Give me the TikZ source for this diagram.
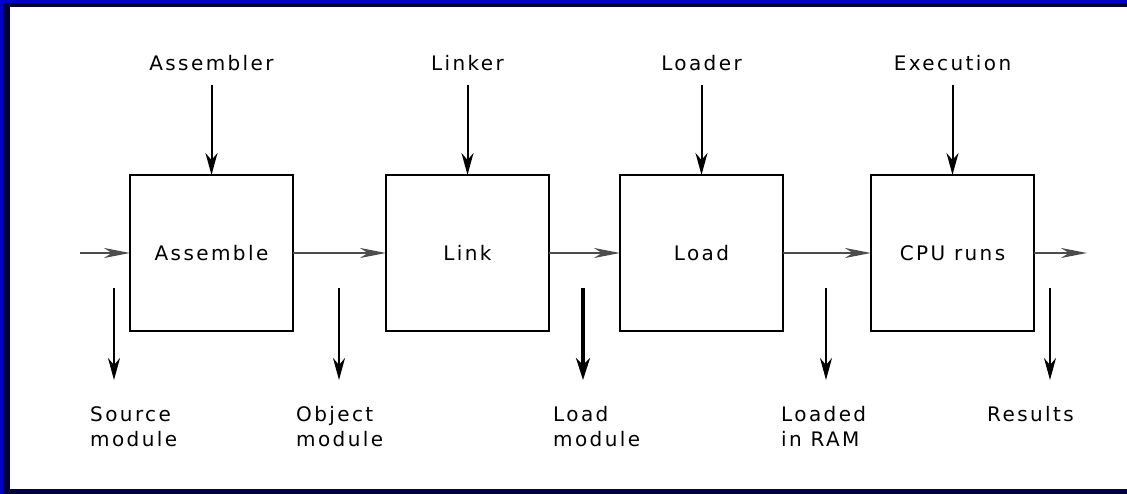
\documentclass[tikz,border=0pt]{standalone}
\usepackage{fontspec}
\usepackage{tikz}
\usetikzlibrary{positioning,arrows.meta}
\newfontfamily\diagfont[LetterSpace=12]{DejaVu Sans}
\definecolor{frameblue}{HTML}{0000CC}
\definecolor{framenavy}{HTML}{00003C}
\tikzset{
    every node/.style={font=\diagfont\fontsize{20}{25}\selectfont},
    stagebox/.style={draw,line width=2pt,minimum width=163pt,minimum height=156pt,inner sep=0pt,outer sep=0pt},
    toplbl/.style={inner sep=2pt,outer sep=0pt},
    outlbl/.style={align=left,inner sep=0pt,anchor=north west},
    flow/.style={-{Stealth[length=26pt,width=10pt,inset=8pt]},line width=2.8pt,black!70},
    feed/.style={-{Stealth[length=22pt,width=12pt,inset=7pt]},line width=2pt},
    heavy/.style={-{Stealth[length=22pt,width=14pt,inset=7pt]},line width=3.6pt}
}
\begin{document}
\begin{tikzpicture}[x=1pt,y=-1pt]
    % frame
    \fill[framenavy] (0,0) rectangle (1127,494);
    \fill[frameblue] (0,0) rectangle (1127,3);
    \fill[frameblue] (0,0) rectangle (3,494);
    \fill[white] (10,7) rectangle (1127,489);
    \useasboundingbox (0,0) rectangle (1127,494);

    \node[stagebox] (asm) at (211.5,253) {Assemble};
    \node[stagebox,right=93pt of asm] (link) {Link};
    \node[stagebox,right=71pt of link] (load) {Load};
    \node[stagebox,right=88pt of load] (cpu) {CPU runs};

    \node[toplbl,above=102pt of asm] (tAsm) {Assembler};
    \node[toplbl,above=102pt of link] (tLink) {Linker};
    \node[toplbl,above=102pt of load] (tLoad) {Loader};
    \node[toplbl,above=102pt of cpu] (tCpu) {Execution};
    \draw[feed,shorten <=12pt] (tAsm) -- (asm);
    \draw[feed,shorten <=12pt] (tLink) -- (link);
    \draw[feed,shorten <=12pt] (tLoad) -- (load);
    \draw[feed,shorten <=12pt] (tCpu) -- (cpu);

    \coordinate (inp) at (80,253);
    \coordinate (outp) at (1087,253);
    \draw[flow] (inp) -- (asm);
    \draw[flow] (asm) -- (link);
    \draw[flow] (link) -- (load);
    \draw[flow] (load) -- (cpu);
    \draw[flow] (cpu) -- (outp);

    \node[outlbl] (srcLbl) at (90,406) {Source\\module};
    \node[outlbl] (objLbl) at (296,406) {Object\\module};
    \node[outlbl] (ldmLbl) at (553,406) {Load\\module};
    \node[outlbl] (ramLbl) at (781,406) {Loaded\\in RAM};
    \node[outlbl] (resLbl) at (987,406) {Results};

    \coordinate (dSrc) at (114,288);
    \coordinate (dObj) at (339,288);
    \coordinate (dLdm) at (583,288);
    \coordinate (dRam) at (826,288);
    \coordinate (dRes) at (1050,288);
    \draw[feed,shorten >=26pt] (dSrc) -- (dSrc |- srcLbl.north);
    \draw[feed,shorten >=26pt] (dObj) -- (dObj |- objLbl.north);
    \draw[heavy,shorten >=26pt] (dLdm) -- (dLdm |- ldmLbl.north);
    \draw[feed,shorten >=26pt] (dRam) -- (dRam |- ramLbl.north);
    \draw[feed,shorten >=26pt] (dRes) -- (dRes |- resLbl.north);
\end{tikzpicture}
\end{document}
